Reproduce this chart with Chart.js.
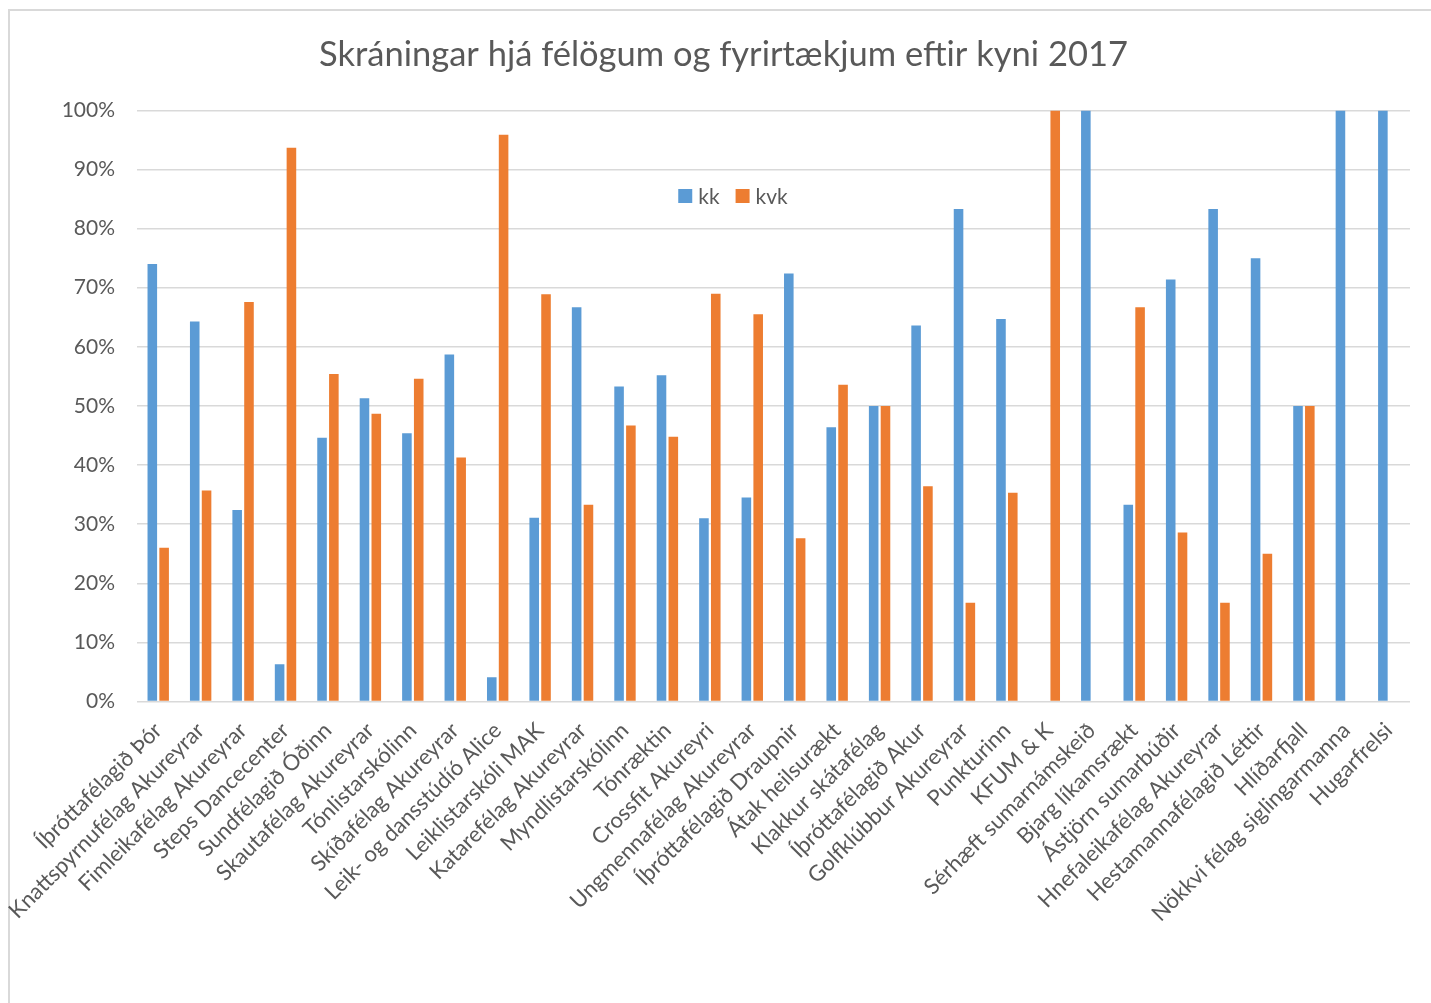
<!DOCTYPE html>
<html>
<head>
<meta charset="utf-8">
<script src="https://cdn.jsdelivr.net/npm/chart.js@4.4.1/dist/chart.umd.min.js"></script>
<style>
  html, body { margin: 0; padding: 0; background: #fff; }
  .frame { position: absolute; left: 8px; top: 9px; right: 0; bottom: 0; border-left: 2px solid #d9d9d9; border-top: 2px solid #d9d9d9; }
  .wrap { position: absolute; left: 0; top: 0; width: 1431px; height: 1003px; }
</style>
</head>
<body>
<div class="frame"></div>
<div class="wrap"><canvas id="genderChart"></canvas></div>
<script>
const categories = [
  "Íþróttafélagið Þór", "Knattspyrnufélag Akureyrar", "Fimleikafélag Akureyrar", "Steps Dancecenter",
  "Sundfélagið Óðinn", "Skautafélag Akureyrar", "Tónlistarskólinn", "Skíðafélag Akureyrar",
  "Leik- og dansstúdíó Alice", "Leiklistarskóli MAK", "Katarefélag Akureyrar", "Myndlistarskólinn",
  "Tónræktin", "Crossfit Akureyri", "Ungmennafélag Akureyrar", "Íþróttafélagið Draupnir",
  "Átak heilsurækt", "Klakkur skátafélag", "Íþróttafélagið Akur", "Golfklúbbur Akureyrar",
  "Punkturinn", "KFUM & K", "Sérhæft sumarnámskeið", "Bjarg líkamsrækt",
  "Ástjörn sumarbúðir", "Hnefaleikafélag Akureyrar", "Hestamannafélagið Léttir", "Hlíðarfjall",
  "Nökkvi félag siglingarmanna", "Hugarfrelsi"
];
const kk = [74, 64.3, 32.4, 6.3, 44.6, 51.3, 45.4, 58.7, 4.1, 31.1, 66.7, 53.3, 55.2, 31.0, 34.5,
  72.4, 46.4, 50, 63.6, 83.3, 64.7, 0, 100, 33.3, 71.4, 83.3, 75, 50, 100, 100];
const kvk = [26, 35.7, 67.6, 93.7, 55.4, 48.7, 54.6, 41.3, 95.9, 68.9, 33.3, 46.7, 44.8, 69.0, 65.5,
  27.6, 53.6, 50, 36.4, 16.7, 35.3, 100, 0, 66.7, 28.6, 16.7, 25, 50, 0, 0];
const yTicks = [0, 10, 20, 30, 40, 50, 60, 70, 80, 90, 100];

const FONT = "Lato, 'Open Sans', sans-serif";
const TEXT = "#595959";

// legend drawn inside the plot area, like the original
const innerLegend = {
  id: "innerLegend",
  afterDraw(chart) {
    const ctx = chart.ctx;
    const box = 14, gap = 6, itemGap = 16;
    ctx.save();
    ctx.font = "21px " + FONT;
    ctx.textBaseline = "middle";
    const items = chart.data.datasets.map((ds) => ({ label: ds.label, color: ds.backgroundColor, w: ctx.measureText(ds.label).width }));
    const total = items.reduce((s, it) => s + box + gap + it.w, 0) + itemGap * (items.length - 1);
    let x = 733 - total / 2;
    const y = 196;
    items.forEach((it) => {
      ctx.fillStyle = it.color;
      ctx.fillRect(x, y - box / 2, box, box);
      ctx.fillStyle = TEXT;
      ctx.fillText(it.label, x + box + gap, y + 1);
      x += box + gap + it.w + itemGap;
    });
    ctx.restore();
  },
};

new Chart(document.getElementById("genderChart"), {
  type: "bar",
  data: {
    labels: categories,
    datasets: [
      { label: "kk", data: kk, backgroundColor: "#5b9bd5" },
      { label: "kvk", data: kvk, backgroundColor: "#ed7d31" },
    ],
  },
  options: {
    responsive: true,
    maintainAspectRatio: false,
    animation: false,
    categoryPercentage: 0.557,
    barPercentage: 0.81,
    layout: { padding: { left: 37, right: 21, top: 0, bottom: 0 } },
    plugins: {
      legend: { display: false },
      tooltip: { enabled: false },
      title: {
        display: true,
        text: "Skráningar hjá félögum og fyrirtækjum eftir kyni 2017",
        color: TEXT,
        font: { family: FONT, size: 34.5, weight: "normal" },
        padding: { top: 34, bottom: 35 },
      },
    },
    scales: {
      x: {
        grid: { display: false },
        border: { display: false },
        ticks: {
          color: TEXT,
          font: { family: FONT, size: 22 },
          minRotation: 45,
          maxRotation: 45,
          autoSkip: false,
          padding: 8,
        },
        afterFit(scale) { scale.height = 301.5; },
      },
      y: {
        min: 0,
        max: 100,
        afterBuildTicks(scale) { scale.ticks = yTicks.map((v) => ({ value: v })); },
        grid: { color: "#d9d9d9", lineWidth: 1.4, drawTicks: false },
        border: { display: false },
        ticks: {
          color: TEXT,
          font: { family: FONT, size: 21 },
          padding: 22,
          callback: (v) => v + "%",
        },
        afterFit(scale) { scale.width = 100; },
      },
    },
  },
  plugins: [innerLegend],
});
</script>
</body>
</html>
